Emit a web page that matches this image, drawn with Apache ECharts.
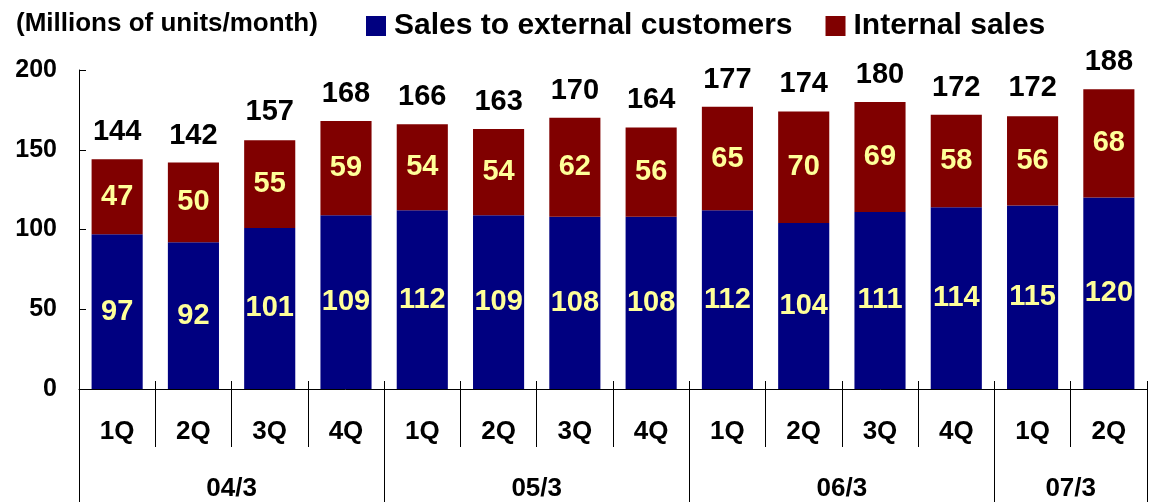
<!DOCTYPE html>
<html>
<head>
<meta charset="utf-8">
<script src="https://cdn.jsdelivr.net/npm/echarts@6/dist/echarts.min.js"></script>
<style>
html,body{margin:0;padding:0;background:#fff;}
#chart{width:1151px;height:502px;}
</style>
</head>
<body>
<div id="chart"></div>
<script>
// ---- data ----
var quarters = ['1Q','2Q','3Q','4Q','1Q','2Q','3Q','4Q','1Q','2Q','3Q','4Q','1Q','2Q'];
var years = ['04/3','05/3','06/3','07/3'];
var quartersPerYear = [4,4,4,2];
var external = [97,92,101,109,112,109,108,108,112,104,111,114,115,120];
var internal = [47,50,55,59,54,54,62,56,65,70,69,58,56,68];
var totals = [144,142,157,168,166,163,170,164,177,174,180,172,172,188];
var yTicks = [0,50,100,150,200];

// ---- build year axis (half-quarter slots) ----
var nSlots = quarters.length * 2;
var yearSlots = [];
for (var i = 0; i <= nSlots; i++) yearSlots.push('');
var boundarySet = {0:true};
var labelSet = {};
var pos = 0;
for (var y = 0; y < years.length; y++) {
  var span = quartersPerYear[y] * 2;
  yearSlots[pos + span/2] = years[y];
  labelSet[pos + span/2] = true;
  pos += span;
  boundarySet[pos] = true;
}

var FONT = '"Liberation Sans", Arial, sans-serif';
var chart = echarts.init(document.getElementById('chart'));
chart.setOption({
  animation: false,
  backgroundColor: '#ffffff',
  textStyle: {fontFamily: FONT},
  title: {
    text: '(Millions of units/month)',
    left: 11, top: 6,
    textStyle: {fontFamily: FONT, fontSize: 26, fontWeight: 'bold', color: '#000'}
  },
  legend: {
    data: ['Sales to external customers','Internal sales'],
    left: 361, top: 6,
    icon: 'rect', itemWidth: 20, itemHeight: 20, itemGap: 33,
    textStyle: {fontFamily: FONT, fontSize: 30, fontWeight: 'bold', color: '#000', padding: [0,0,0,3]}
  },
  grid: {left: 79, right: 4, top: 70, bottom: 113, containLabel: false},
  xAxis: [
    {
      type: 'category', data: quarters, position: 'bottom',
      axisLine: {show: true, lineStyle: {color: '#000', width: 1}},
      axisTick: {show: true, inside: false, length: 58, interval: 0, lineStyle: {color: '#000'}},
      axisLabel: {interval: 0, margin: 30, fontFamily: FONT, fontSize: 26, fontWeight: 'bold', color: '#000'},
      splitLine: {show: false}
    },
    {
      type: 'category', data: quarters, position: 'bottom',
      axisLine: {show: false},
      axisTick: {show: true, inside: true, length: 8, interval: 0, lineStyle: {color: '#000'}},
      axisLabel: {show: false},
      splitLine: {show: false}
    },
    {
      type: 'category', data: yearSlots, position: 'bottom', boundaryGap: false,
      axisLine: {show: false},
      axisTick: {show: true, inside: false, length: 113,
        interval: function (idx) { return !!boundarySet[idx]; },
        lineStyle: {color: '#000'}},
      axisLabel: {margin: 87, fontFamily: FONT, fontSize: 26, fontWeight: 'bold', color: '#000',
        interval: function (idx) { return !!labelSet[idx]; }},
      splitLine: {show: false}
    }
  ],
  yAxis: {
    type: 'value', min: yTicks[0], max: yTicks[yTicks.length-1], interval: 50,
    axisLine: {show: true, lineStyle: {color: '#000', width: 1}},
    axisTick: {show: true, inside: true, length: 7, lineStyle: {color: '#000'}},
    axisLabel: {margin: 22, fontFamily: FONT, fontSize: 25, fontWeight: 'bold', color: '#000'},
    splitLine: {show: false}
  },
  series: [
    {
      name: 'Sales to external customers', type: 'bar', stack: 'total', xAxisIndex: 0,
      data: external, barCategoryGap: '33%',
      itemStyle: {color: '#000080'},
      label: {show: true, position: 'inside', fontFamily: FONT, fontSize: 29, fontWeight: 'bold', color: '#FFFF99'}
    },
    {
      name: 'Internal sales', type: 'bar', stack: 'total', xAxisIndex: 0,
      data: internal, barCategoryGap: '33%',
      itemStyle: {color: '#800000'},
      label: {show: true, position: 'inside', fontFamily: FONT, fontSize: 29, fontWeight: 'bold', color: '#FFFF99'}
    },
    {
      name: 'Total', type: 'line', xAxisIndex: 0, data: totals,
      symbol: 'circle', symbolSize: 1, showSymbol: true,
      itemStyle: {color: 'rgba(0,0,0,0)'},
      lineStyle: {width: 0, color: 'rgba(0,0,0,0)'}, silent: true,
      label: {show: true, position: 'top', distance: 12, fontFamily: FONT, fontSize: 29, fontWeight: 'bold', color: '#000'}
    }
  ]
});
</script>
</body>
</html>
